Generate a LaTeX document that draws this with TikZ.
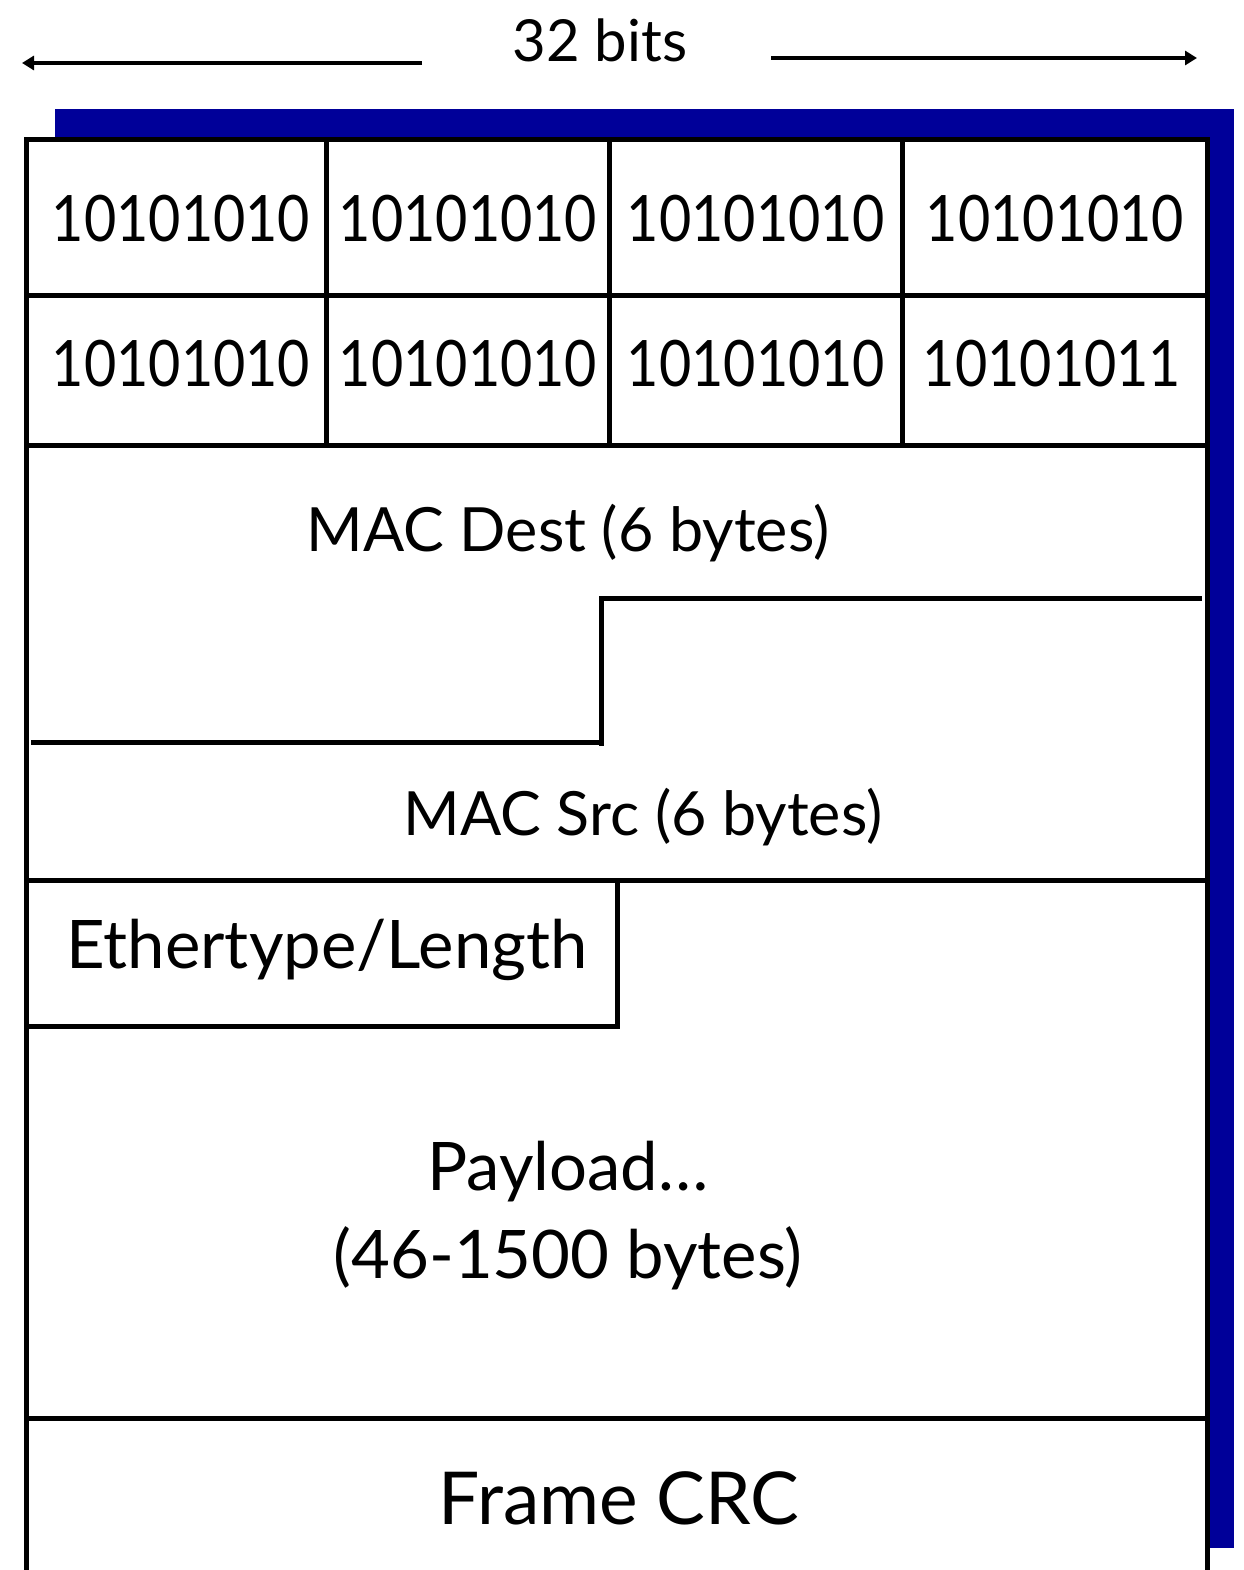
\documentclass[tikz,border=0pt]{standalone}
\usepackage{fontspec}
\setmainfont{Lato}
\usetikzlibrary{arrows.meta}
\definecolor{shadowblue}{RGB}{0,0,153}
\newcommand{\bitstr}[1]{\scalebox{0.87}[1]{#1}}
\tikzset{
  frameline/.style={line width=5pt, line cap=rect},
  dimarrow/.style={line width=4pt, -{Triangle[length=12pt,width=14pt]}},
  bits/.style={font=\fontsize{64}{64}\selectfont, inner sep=0pt},
  label/.style={font=\fontsize{61}{80}\selectfont, inner sep=0pt, align=center},
  paylabel/.style={font=\fontsize{67}{88}\selectfont, inner sep=0pt, align=center},
}
\begin{document}
\begin{tikzpicture}[x=1pt,y=-1pt]
\useasboundingbox (0,0) rectangle (1243,1570);
\fill[white] (0,0) rectangle (1243,1570);
% shadow
\fill[shadowblue] (55,109) rectangle (1234,1548);
\fill[white] (26,140) rectangle (1207,1570);
% outer frame
\draw[frameline, line cap=butt] (26,1570) -- (26,140) -- (1207,140) -- (1207,1570);
% preamble rows
\draw[frameline] (30,295) -- (1203,295);
\draw[frameline] (26,445) -- (1207,445);
\draw[frameline] (326,140) -- (326,445);
\draw[frameline] (609,140) -- (609,445);
\draw[frameline] (902,140) -- (902,445);
% MAC step
\draw[frameline] (601,598) -- (1199,598);
\draw[frameline] (601,598) -- (601,743);
\draw[frameline] (33,742) -- (596,742);
\draw[frameline] (26,880) -- (1207,880);
% Ethertype box
\draw[frameline] (617,880) -- (617,1026) -- (26,1026);
% CRC line
\draw[frameline] (31,1418) -- (1203,1418);
% dimension arrows
\node[font=\fontsize{58}{60}\selectfont, inner sep=0pt] (w) at (600,40) {32 bits};
\coordinate (la) at (422,63);
\coordinate (lb) at (22,63);
\coordinate (ra) at (771,58);
\coordinate (rb) at (1197,58);
\draw[dimarrow] (la) -- (lb);
\draw[dimarrow] (ra) -- (rb);
% bits
\node[bits] (b11) at (181,219) {\bitstr{10101010}};
\node[bits] (b12) at (468,219) {\bitstr{10101010}};
\node[bits] (b13) at (756,219) {\bitstr{10101010}};
\node[bits] (b14) at (1055,219) {\bitstr{10101010}};
\node[bits] (b21) at (181,364) {\bitstr{10101010}};
\node[bits] (b22) at (468,364) {\bitstr{10101010}};
\node[bits] (b23) at (756,364) {\bitstr{10101010}};
\node[bits] (b24) at (1052,364) {\bitstr{10101011}};
% fields
\node[label] (dst) at (568,533) {MAC Dest (6 bytes)};
\node[label] (src) at (643,817) {MAC Src (6 bytes)};
\node[font=\fontsize{67}{80}\selectfont, inner sep=0pt] (eth) at (327,950) {Ethertype/Length};
\node[paylabel] (pay) at (568,1216) {Payload…\\(46-1500 bytes)};
\node[font=\fontsize{73}{80}\selectfont, inner sep=0pt] (crc) at (619,1498) {Frame CRC};
\end{tikzpicture}
\end{document}
